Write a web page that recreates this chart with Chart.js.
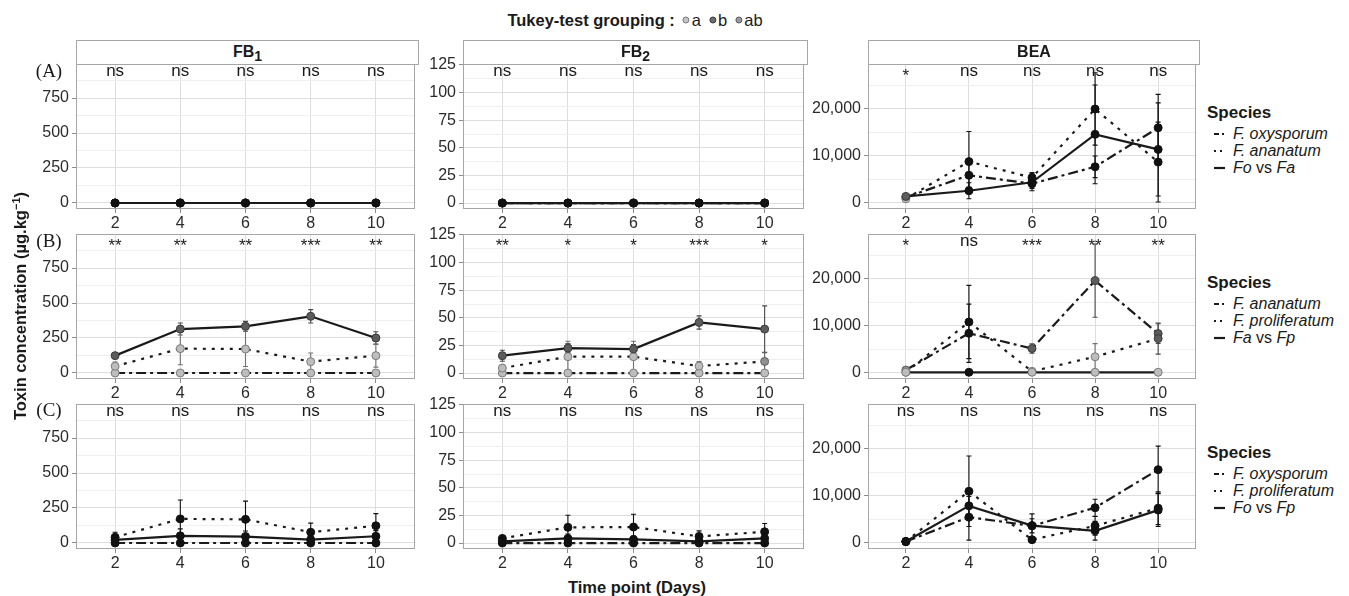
<!DOCTYPE html>
<html>
<head>
<meta charset="UTF-8">
<title>Toxin concentration over time</title>
<script src="https://cdn.jsdelivr.net/npm/chart.js"></script>
<style>
  body { margin: 0; width: 1349px; height: 596px; background: #fff; position: relative; overflow: hidden;
         font-family: "Liberation Sans", Arial, sans-serif; color: #1a1a1a; }
  canvas { position: absolute; }
  .txt { position: absolute; white-space: nowrap; }
  .strip { position: absolute; box-sizing: border-box; border: 1px solid #a6a6a6; background: #fff;
           text-align: center; font-weight: bold; font-size: 16px; line-height: 22px; }
  .strip sub { font-size: 14px; vertical-align: -4px; line-height: 0; }
  .legend { position: absolute; }
  .legend .ttl { font-weight: bold; font-size: 17px; height: 24px; line-height: 24px; }
  .legend .item { display: flex; align-items: center; height: 17px; font-size: 16px; }
  .legend svg { margin-right: 6px; }
  .dot { display: inline-block; width: 7px; height: 7px; border-radius: 50%; margin: 0 2px 0 8px; }
</style>
</head>
<body>
<script>
const days = [2, 4, 6, 8, 10];

// y tick labels per toxin column
const fb1Ticks = [0, 250, 500, 750];
const fb2Ticks = [0, 25, 50, 75, 100, 125];
const beaTicks = [0, 10000, 20000];

const zeros = [0, 0, 0, 0, 0];
const nsGrp = ['n', 'n', 'n', 'n', 'n'];
const aGrp = ['a', 'a', 'a', 'a', 'a'];
const bGrp = ['b', 'b', 'b', 'b', 'b'];

// significance labels above each time point
const sigA_FB1 = ['ns', 'ns', 'ns', 'ns', 'ns'];
const sigA_FB2 = ['ns', 'ns', 'ns', 'ns', 'ns'];
const sigA_BEA = ['*', 'ns', 'ns', 'ns', 'ns'];
const sigB_FB1 = ['**', '**', '**', '***', '**'];
const sigB_FB2 = ['**', '*', '*', '***', '*'];
const sigB_BEA = ['*', 'ns', '***', '**', '**'];
const sigC_FB1 = ['ns', 'ns', 'ns', 'ns', 'ns'];
const sigC_FB2 = ['ns', 'ns', 'ns', 'ns', 'ns'];
const sigC_BEA = ['ns', 'ns', 'ns', 'ns', 'ns'];

// legend labels
const legendA = ['F. oxysporum', 'F. ananatum', 'Fo vs Fa'];
const legendB = ['F. ananatum', 'F. proliferatum', 'Fa vs Fp'];
const legendC = ['F. oxysporum', 'F. proliferatum', 'Fo vs Fp'];
const tukeyGroups = ['a', 'b', 'ab'];

// (A) F. oxysporum vs F. ananatum
const A_BEA_oxy = [1200, 5900, 4100, 7700, 16000];
const A_BEA_oxyErr = [300, 2500, 1000, 2300, 7100];
const A_BEA_oxyGrp = ['a', 'n', 'n', 'n', 'n'];
const A_BEA_ana = [900, 8800, 5400, 20000, 8700];
const A_BEA_anaErr = [300, 6400, 1100, 7700, 8500];
const A_BEA_anaGrp = ['a', 'n', 'n', 'n', 'n'];
const A_BEA_mix = [1400, 2600, 4400, 14600, 11400];
const A_BEA_mixErr = [300, 1700, 1800, 10500, 9900];
const A_BEA_mixGrp = ['b', 'n', 'n', 'n', 'n'];

// (B) F. ananatum vs F. proliferatum
const B_FB1_pro = [48, 174, 171, 81, 124];
const B_FB1_proErr = [30, 115, 125, 62, 82];
const B_FB1_mix = [124, 314, 333, 405, 250];
const B_FB1_mixErr = [8, 43, 36, 48, 45];
const B_FB2_pro = [4.5, 14.8, 14.8, 6.3, 10.5];
const B_FB2_proErr = [3, 14, 14, 4, 8];
const B_FB2_proGrp = ['a', 'a', 'a', 'a', 'ab'];
const B_FB2_mix = [15.7, 22.6, 21.7, 45.8, 39.8];
const B_FB2_mixErr = [5, 4, 4, 6, 21];
const B_BEA_ana = [630, 8450, 5200, 19650, 8380];
const B_BEA_anaErr = [300, 6200, 1000, 7800, 2100];
const B_BEA_anaGrp = ['ab', 'n', 'b', 'b', 'b'];
const B_BEA_pro = [150, 10850, 350, 3450, 7320];
const B_BEA_proErr = [100, 7800, 200, 2800, 3300];
const B_BEA_proGrp = ['a', 'n', 'a', 'a', 'b'];
const B_BEA_mix = [150, 150, 150, 150, 150];
const B_BEA_mixGrp = ['a', 'n', 'a', 'a', 'a'];

// (C) F. oxysporum vs F. proliferatum
const C_FB1_pro = [41, 172, 169, 77, 123];
const C_FB1_proErr = [36, 135, 130, 65, 87];
const C_FB1_mix = [22, 51, 46, 24, 48];
const C_FB1_mixErr = [15, 50, 40, 20, 40];
const C_FB2_pro = [4.2, 14.2, 14.5, 6, 10.2];
const C_FB2_proErr = [2, 11, 11.5, 5, 7.5];
const C_FB2_mix = [1.5, 4.2, 3.3, 1.5, 4.2];
const C_FB2_mixErr = [1, 4, 3, 1.5, 3];
const C_BEA_oxy = [300, 5500, 3650, 7500, 15600];
const C_BEA_oxyErr = [200, 4900, 1500, 1800, 5000];
const C_BEA_pro = [300, 11000, 700, 3650, 7400];
const C_BEA_proErr = [200, 7500, 300, 2000, 3500];
const C_BEA_mix = [300, 7900, 3700, 2600, 7000];
const C_BEA_mixErr = [200, 2000, 2500, 2000, 3500];

// ---- styling / layout ----
const FONT = '"Liberation Sans", Arial, sans-serif';
Chart.defaults.font.family = FONT;

const ptFill = { n: '#111111', a: '#bdbdbd', b: '#5c5c5c', ab: '#8f8f8f' };
const ptEdge = { n: '#111111', a: '#7a7a7a', b: '#3a3a3a', ab: '#5e5e5e' };
const barCol = { n: '#111111', a: '#707070', b: '#4a4a4a', ab: '#5e5e5e' };
const dashes = { dashdot: [10, 4, 3, 4], dotted: [3, 6], solid: [] };

const cols = [
  { left: 76, right: 418, yW: 50, min: -43, max: 993, ticks: fb1Ticks, fmt: v => String(v) },
  { left: 463, right: 807, yW: 42, min: -5.4, max: 125.9, ticks: fb2Ticks, fmt: v => String(v) },
  { left: 868, right: 1199, yW: 60, min: -1280, max: 29570, ticks: beaTicks, fmt: v => v.toLocaleString('en-US') }
];
const rows = [{ top: 64, bottom: 209 }, { top: 234, bottom: 379 }, { top: 404, bottom: 549 }];
const PAD_TOP = 16, PAD_RIGHT = 2, X_H = 28;

// panel border
const panelBox = {
  id: 'panelBox',
  beforeDatasetsDraw(chart) {
    const { ctx, chartArea: a } = chart;
    ctx.save();
    ctx.strokeStyle = '#a6a6a6';
    ctx.lineWidth = 1;
    ctx.strokeRect(a.left + 0.5, a.top + 0.5, a.width - 1, a.height - 1);
    ctx.restore();
  }
};

// significance text at top of each panel
const sigText = {
  id: 'sigText',
  beforeDatasetsDraw(chart, args, opts) {
    const { ctx, chartArea: a, scales: { x } } = chart;
    ctx.save();
    ctx.fillStyle = '#1a1a1a';
    ctx.font = '17px ' + FONT;
    ctx.textAlign = 'center';
    ctx.textBaseline = 'alphabetic';
    opts.labels.forEach((s, i) => {
      const px = x.getPixelForValue(days[i]);
      ctx.fillText(s, px, a.top + (s === 'ns' ? 12 : 17));
    });
    ctx.restore();
  }
};

// mean +/- sd error bars
const errorBars = {
  id: 'errorBars',
  beforeDatasetsDraw(chart) {
    const { ctx, chartArea: a, scales: { x, y } } = chart;
    ctx.save();
    ctx.beginPath();
    ctx.rect(a.left, a.top, a.width, a.height);
    ctx.clip();
    ctx.lineWidth = 1.1;
    chart.data.datasets.forEach(ds => {
      ds.data.forEach((pt, i) => {
        const e = ds.errors[i];
        if (!e) return;
        const px = x.getPixelForValue(pt.x);
        const top = y.getPixelForValue(pt.y + e);
        const bot = y.getPixelForValue(pt.y - e);
        ctx.strokeStyle = barCol[ds.groups[i]];
        ctx.beginPath();
        ctx.moveTo(px, top); ctx.lineTo(px, bot);
        ctx.moveTo(px - 2.5, top); ctx.lineTo(px + 2.5, top);
        ctx.moveTo(px - 2.5, bot); ctx.lineTo(px + 2.5, bot);
        ctx.stroke();
      });
    });
    ctx.restore();
  }
};

function series(kind, values, errors, groups) {
  return { kind, values, errors, groups };
}

function drawPanel(row, col, sig, list) {
  const c = cols[col], r = rows[row];
  const canvas = document.createElement('canvas');
  canvas.width = c.yW + (c.right - c.left) + PAD_RIGHT;
  canvas.height = PAD_TOP + (r.bottom - r.top) + X_H;
  canvas.style.left = (c.left - c.yW) + 'px';
  canvas.style.top = (r.top - PAD_TOP) + 'px';
  document.body.appendChild(canvas);

  const major = c.ticks;
  const step = major[1] - major[0];
  const minor = major.map(v => v + step / 2).filter(v => v < c.max);
  const yTicks = major.concat(minor).sort((p, q) => p - q);
  const isMajor = v => major.includes(v);

  new Chart(canvas, {
    type: 'line',
    data: {
      datasets: list.map(s => ({
        data: days.map((d, i) => ({ x: d, y: s.values[i] })),
        errors: s.errors,
        groups: s.groups,
        borderColor: '#1a1a1a',
        borderWidth: 2.2,
        borderDash: dashes[s.kind],
        tension: 0,
        fill: false,
        pointRadius: 4,
        pointBorderWidth: 1,
        pointBackgroundColor: s.groups.map(g => ptFill[g]),
        pointBorderColor: s.groups.map(g => ptEdge[g])
      }))
    },
    options: {
      responsive: false,
      animation: false,
      events: [],
      layout: { padding: { top: PAD_TOP, right: PAD_RIGHT, left: 0, bottom: 0 } },
      plugins: { legend: { display: false }, tooltip: { enabled: false }, sigText: { labels: sig } },
      scales: {
        x: {
          type: 'linear', min: 0.8, max: 11.2,
          afterBuildTicks: s => { s.ticks = days.map(v => ({ value: v })); },
          afterFit: s => { s.height = X_H; },
          border: { display: false },
          grid: { color: '#dedede', lineWidth: 1, tickLength: 4, tickColor: '#8c8c8c' },
          ticks: { color: '#2b2b2b', font: { size: 16 }, padding: 1, maxRotation: 0, autoSkip: false }
        },
        y: {
          type: 'linear', min: c.min, max: c.max,
          afterBuildTicks: s => { s.ticks = yTicks.map(v => ({ value: v })); },
          afterFit: s => { s.width = c.yW; },
          border: { display: false },
          grid: {
            color: t => (t.tick && isMajor(t.tick.value)) ? '#dedede' : '#efefef',
            tickColor: t => (t.tick && isMajor(t.tick.value)) ? '#8c8c8c' : 'rgba(0,0,0,0)',
            lineWidth: 1, tickLength: 4
          },
          ticks: {
            color: '#2b2b2b', font: { size: 16 }, padding: 3, autoSkip: false,
            callback: v => isMajor(v) ? c.fmt(v) : ''
          }
        }
      }
    },
    plugins: [panelBox, errorBars, sigText]
  });
}

// Row A: Fo vs Fa   (first listed dataset is drawn on top)
drawPanel(0, 0, sigA_FB1, [series('solid', zeros, zeros, nsGrp), series('dotted', zeros, zeros, nsGrp), series('dashdot', zeros, zeros, nsGrp)]);
drawPanel(0, 1, sigA_FB2, [series('solid', zeros, zeros, nsGrp), series('dotted', zeros, zeros, nsGrp), series('dashdot', zeros, zeros, nsGrp)]);
drawPanel(0, 2, sigA_BEA, [series('solid', A_BEA_mix, A_BEA_mixErr, A_BEA_mixGrp), series('dotted', A_BEA_ana, A_BEA_anaErr, A_BEA_anaGrp), series('dashdot', A_BEA_oxy, A_BEA_oxyErr, A_BEA_oxyGrp)]);
// Row B: Fa vs Fp
drawPanel(1, 0, sigB_FB1, [series('solid', B_FB1_mix, B_FB1_mixErr, bGrp), series('dotted', B_FB1_pro, B_FB1_proErr, aGrp), series('dashdot', zeros, zeros, aGrp)]);
drawPanel(1, 1, sigB_FB2, [series('solid', B_FB2_mix, B_FB2_mixErr, bGrp), series('dotted', B_FB2_pro, B_FB2_proErr, B_FB2_proGrp), series('dashdot', zeros, zeros, aGrp)]);
drawPanel(1, 2, sigB_BEA, [series('solid', B_BEA_mix, zeros, B_BEA_mixGrp), series('dotted', B_BEA_pro, B_BEA_proErr, B_BEA_proGrp), series('dashdot', B_BEA_ana, B_BEA_anaErr, B_BEA_anaGrp)]);
// Row C: Fo vs Fp
drawPanel(2, 0, sigC_FB1, [series('solid', C_FB1_mix, C_FB1_mixErr, nsGrp), series('dotted', C_FB1_pro, C_FB1_proErr, nsGrp), series('dashdot', zeros, zeros, nsGrp)]);
drawPanel(2, 1, sigC_FB2, [series('solid', C_FB2_mix, C_FB2_mixErr, nsGrp), series('dotted', C_FB2_pro, C_FB2_proErr, nsGrp), series('dashdot', zeros, zeros, nsGrp)]);
drawPanel(2, 2, sigC_BEA, [series('solid', C_BEA_mix, C_BEA_mixErr, nsGrp), series('dotted', C_BEA_pro, C_BEA_proErr, nsGrp), series('dashdot', C_BEA_oxy, C_BEA_oxyErr, nsGrp)]);

// ---- text around the panels ----
function addText(html, x, y, css, anchor) {
  const d = document.createElement('div');
  d.className = 'txt';
  d.innerHTML = html;
  d.style.cssText += css;
  d.style.left = x + 'px';
  d.style.top = y + 'px';
  d.style.transform = anchor || 'translate(-50%, -50%)';
  document.body.appendChild(d);
  return d;
}

// strips
[['FB<sub>1</sub>', 0], ['FB<sub>2</sub>', 1], ['BEA', 2]].forEach(([t, i]) => {
  const s = document.createElement('div');
  s.className = 'strip';
  s.innerHTML = t;
  s.style.left = cols[i].left + 'px';
  s.style.top = '40px';
  s.style.width = (cols[i].right - cols[i].left + 1) + 'px';
  s.style.height = '25px';
  document.body.appendChild(s);
});

// row letters
['(A)', '(B)', '(C)'].forEach((t, i) => {
  addText(t, 49, [71, 241, 410][i], 'font-family:"Liberation Serif","DejaVu Serif",serif;font-size:19px;');
});

// axis titles
addText('Toxin concentration (µg.kg<sup style="font-size:11px">−1</sup>)', 20, 306,
  'font-weight:bold;font-size:16.5px;', 'translate(-50%, -50%) rotate(-90deg)');
addText('Time point (Days)', 637, 587, 'font-weight:bold;font-size:16.5px;');

// Tukey grouping legend
const tk = addText('<b>Tukey-test grouping :</b>', 635, 20, 'font-size:16.5px;display:flex;align-items:center;');
tukeyGroups.forEach(g => {
  const dot = document.createElement('span');
  dot.className = 'dot';
  dot.style.background = { a: '#c4c4c4', b: '#6e6e6e', ab: '#9a9a9a' }[g];
  dot.style.border = '1px solid ' + ptEdge[g];
  dot.style.boxSizing = 'border-box';
  tk.appendChild(dot);
  const lab = document.createElement('span');
  lab.textContent = g;
  tk.appendChild(lab);
});

// species legends
function italicise(label) {
  return label.split(' ').map(w => w === 'vs' ? 'vs' : '<i>' + w + '</i>').join(' ');
}
function addLegend(top, labels) {
  const box = document.createElement('div');
  box.className = 'legend';
  box.style.left = '1207px';
  box.style.top = top + 'px';
  let html = '<div class="ttl">Species</div>';
  ['dashdot', 'dotted', 'solid'].forEach((k, i) => {
    const da = k === 'dashdot' ? '5,3,2,3' : k === 'dotted' ? '2,4' : 'none';
    html += '<div class="item"><svg width="20" height="6"><line x1="7" y1="3" x2="18" y2="3" stroke="#1a1a1a" stroke-width="2.2" stroke-dasharray="' + da + '"/></svg><span>' + italicise(labels[i]) + '</span></div>';
  });
  box.innerHTML = html;
  document.body.appendChild(box);
}
addLegend(101, legendA);
addLegend(271, legendB);
addLegend(441, legendC);
</script>
</body>
</html>
